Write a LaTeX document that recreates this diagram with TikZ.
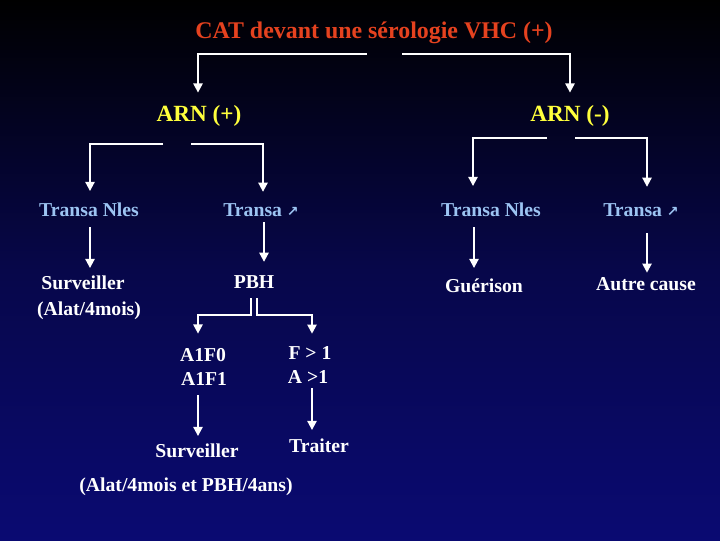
\documentclass[tikz,border=0pt]{standalone}
\usepackage{fontspec}
\setmainfont{Liberation Serif}
\newfontfamily\arrowfont{DejaVu Sans}
\usepackage{tikz}
\usetikzlibrary{positioning,arrows.meta,calc}
\usepackage{xcolor}
\definecolor{vermilion}{HTML}{E5421F}
\definecolor{lemon}{HTML}{FFFF3C}
\definecolor{skyblue}{HTML}{9CC4F2}
\definecolor{midblue}{HTML}{07074A}
\definecolor{nightblue}{HTML}{0A0A72}

\newcommand{\upArrow}{{\arrowfont\fontsize{10}{10}\selectfont ↗}}

\begin{document}
\begin{tikzpicture}[
    x=0.025cm, y=-0.025cm,
    baseNode/.style={anchor=base, inner sep=0pt, font=\fontsize{14}{16}\selectfont\bfseries, text=white},
    titleNode/.style={baseNode, font=\fontsize{17}{20}\selectfont\bfseries, text=vermilion},
    arnNode/.style={baseNode, font=\fontsize{16.5}{19}\selectfont\bfseries, text=lemon},
    transaNode/.style={baseNode, text=skyblue},
    arrowTree/.style={-{Triangle[width=6.5pt,length=6.5pt]}, line width=1.4pt, draw=white}
]
    \useasboundingbox (0,0) rectangle (720,540);
    \shade[top color=black, bottom color=nightblue, middle color=midblue] (0,0) rectangle (720,540);

    \node[titleNode] (title) at (374,38) {CAT devant une sérologie VHC (+)};
    \node[arnNode] (arnPos) at (199,121) {ARN (+)};
    \node[arnNode] (arnNeg) at (570,121) {ARN (-)};

    \node[transaNode] (transaNlesP) at (89,216) {Transa Nles};
    \node[transaNode] (transaUpP) at (261,216) {Transa \upArrow};
    \node[transaNode] (transaNlesN) at (491,216) {Transa Nles};
    \node[transaNode] (transaUpN) at (641,216) {Transa \upArrow};

    \node[baseNode] (survA) at (83,289) {Surveiller};
    \node[baseNode] (alatA) at (89,315) {(Alat/4mois)};
    \node[baseNode] (pbh) at (254,288) {PBH};
    \node[baseNode] (guerison) at (484,292) {Guérison};
    \node[baseNode] (autre) at (646,290) {Autre cause};

    \node[baseNode] (a1f0) at (203,361) {A1F0};
    \node[baseNode] (a1f1) at (204,385) {A1F1};
    \node[baseNode] (fSup) at (310,359) {F > 1};
    \node[baseNode] (aSup) at (308,383) {A >1};
    \node[baseNode] (survB) at (197,457) {Surveiller};
    \node[baseNode] (traiter) at (319,452) {Traiter};
    \node[baseNode] (alatB) at (186,491) {(Alat/4mois et PBH/4ans)};

    % Branche principale
    \draw[arrowTree] ($(title.south)+(-7,10)$) -| ($(arnPos.north)+(-1,-12)$);
    \draw[arrowTree] ($(title.south)+(28,10)$) -| ($(arnNeg.north)+(0,-12)$);

    % ARN (+) / ARN (-)
    \draw[arrowTree] ($(arnPos.south)+(-36,18)$) -| ($(transaNlesP.north)+(1,-11)$);
    \draw[arrowTree] ($(arnPos.south)+(-8,18)$) -| ($(transaUpP.north)+(2,-11)$);
    \draw[arrowTree] ($(arnNeg.south)+(-23,12)$) -| ($(transaNlesN.north)+(-18,-16)$);
    \draw[arrowTree] ($(arnNeg.south)+(5,12)$) -| ($(transaUpN.north)+(6,-16)$);

    \draw[arrowTree] ($(transaNlesP.south)+(1,11)$) -- ($(transaNlesP.south |- survA.north)+(1,-7)$);
    \draw[arrowTree] ($(transaUpP.south)+(3,6)$) -- ($(transaUpP.south |- pbh.north)+(3,-13)$);
    \draw[arrowTree] ($(transaNlesN.south)+(-17,11)$) -- ($(transaNlesN.south |- guerison.north)+(-17,-10)$);
    \draw[arrowTree] ($(transaUpN.south)+(6,17)$) -- ($(transaUpN.south |- autre.north)+(6,-4)$);

    % PBH
    \draw[arrowTree] ($(pbh.south)+(-3,10)$) -- ++(0,17) -| ($(a1f0.north)+(-5,-14)$);
    \draw[arrowTree] ($(pbh.south)+(3,10)$) -- ++(0,17) -| ($(fSup.north)+(2,-12)$);
    \draw[arrowTree] ($(a1f1.south)+(-6,10)$) -- ($(a1f1.south |- survB.north)+(-6,-7)$);
    \draw[arrowTree] ($(aSup.south)+(4,5)$) -- ($(aSup.south |- traiter.north)+(4,-8)$);
\end{tikzpicture}
\end{document}
